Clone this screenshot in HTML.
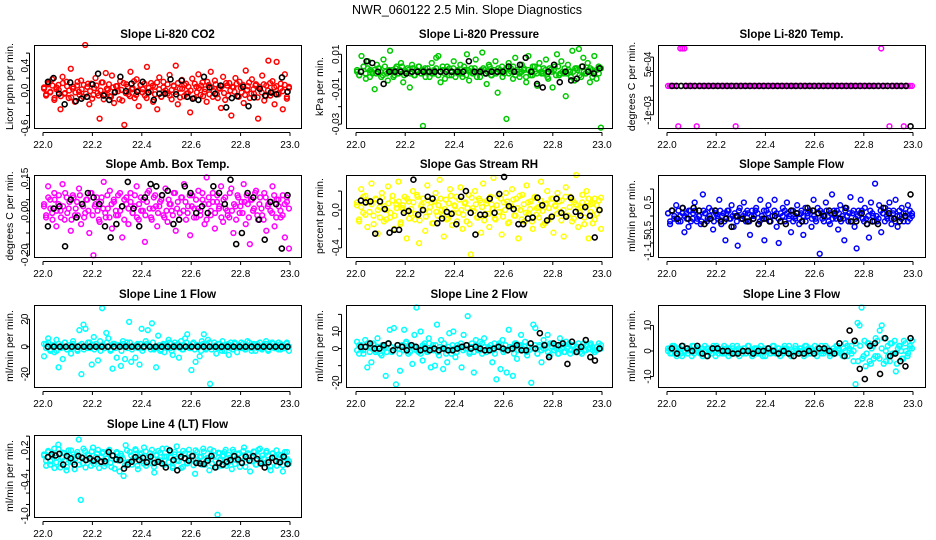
<!DOCTYPE html>
<html><head><meta charset="utf-8"><style>
html,body{margin:0;padding:0;background:#fff;}
svg{display:block;font-family:"Liberation Sans",sans-serif;}
</style></head><body>
<svg id="chart" width="936" height="540" viewBox="0 0 936 540">
<text x="467" y="14" font-size="12.5" text-anchor="middle">NWR_060122  2.5 Min. Slope Diagnostics</text>
</svg>
<script>
// ---- data (colored series, dense core-band series and black series per panel) ----
const xTickLabels = ["22.0","22.2","22.4","22.6","22.8","23.0"];
const xTickValues = [22.0,22.2,22.4,22.6,22.8,23.0];

const co2Vals = [5,-8,12,-3,18,-15,2,9,-30,22,-5,14,-12,35,3,-18,8,-2,16,-10,73,6,-22,11,-7,20,-4,-45,13,-14,28,1,-9,24,-20,7,-1,15,-16,-55,10,-6,30,4,-12,18,-25,9,2,-8,38,-3,12,-18,6,-30,21,-10,14,0,-5,25,-14,8,40,-22,3,17,-9,11,-4,-35,19,-12,6,26,-7,13,-2,-18,9,30,-10,16,-6,4,-28,22,-15,8,12,-40,5,20,-9,14,-3,-20,32,7,-12,18,-5,10,-45,2,24,-16,8,48,-8,15,-22,46,-4,11,-30,26,-10,6];
const co2Band = [3,-6,10,-2,8,-12,5,1,-9,12,-4,7,0,-11,6,-3,14,-7,2,9,-5,11,-1,-13,4,8,-8,0,13,-6,3,10,-10,5,-2,7,-14,1,12,-4,6,-9,2,15,-7,0,9,-3,11,-12,4,-1,8,-6,13,2,-10,5,-4,10,-8,1,7,-2,12,-11,3,9,-5,6,0,-13,11,-3,4,8,-9,2,14,-6,5,-1,10,-12,3,7,-4,12,-8,0,6,-2,11,-10,4,9,-7,1,13,-5,2,8,-11,6,-3,10,-9,0,12,-4,5,7,-6,3,-1,9,-13,4];
const co2Black = [14,20,-5,-22,13,-17,-13,-10,10,27,-8,-15,-3,22,-1,11,-2,14,-3,-15,-5,-5,18,-6,16,-10,-13,-15,22,5,-5,8,-27,-12,-9,6,-25,-11,3,-8,-3,-6,21,-2];
const presVals = [0,-2,9,3,-4,6,1,-1,-10,4,2,-3,7,0,-5,12,1,-2,3,-1,5,-6,0,2,-9,4,-2,1,3,-1,-31,2,0,-3,5,-1,8,9,-6,1,-4,3,2,-2,6,0,-1,4,-3,1,10,-5,2,-1,7,0,-3,11,1,-7,4,-2,0,6,-12,1,3,-1,-27,5,2,-4,8,0,-3,4,1,-6,9,-2,3,0,-8,5,-1,2,7,-4,1,-9,3,10,-2,6,-1,-14,4,0,12,-5,2,13,-3,8,-1,5,-6,1,9,-4,3,-32];
const presBand = [1,-2,0,3,-1,2,-3,0,1,-1,2,0,-2,3,-1,1,0,-3,2,-1,1,3,-2,0,1,-1,2,-2,0,3,-1,1,-3,2,0,-1,1,2,-2,0,3,-1,1,-2,0,2,-3,1,0,-1,3,-2,1,0,-1,2,-3,0,1,2,-1,0,3,-2,1,-1,2,0,-3,1,2,-1,0,3,-2,1,-1,0,2,-3,1,0,-2,3,-1,2,0,-1,1,-3,2,0,1,-2,3,-1,0,2,-1,1,-3,0,2,1,-2,3,0,-1,1,2,-3,0,1,-1,2];
const presBlack = [0,6,5,0,-7,0,0,0,-1,0,0,0,0,0,0,0,0,0,0,6,0,0,-1,0,0,0,3,0,4,8,0,-7,-9,0,4,-6,0,-5,-4,3,0,-1,2];
const tempVals = [0,0,0,0,0,-14,13,13,13,0,0,0,0,0,-14,0,0,0,0,0,0,0,0,0,0,0,0,0,0,0,0,0,0,-14,0,0,0,0,0,0,0,0,0,0,0,0,0,0,0,0,0,0,0,0,0,0,0,0,0,0,0,0,0,0,0,0,0,0,0,0,0,0,0,0,0,0,0,0,0,0,0,0,0,0,0,0,0,0,0,0,0,0,0,0,0,0,0,0,0,0,0,0,0,0,13,0,0,0,-14,0,0,0,0,0,0,-14,0,0,0,0];
const tempBand = [];
const tempBlack = [0,0,0,0,0,0,0,0,0,0,0,0,0,0,0,0,0,0,0,0,0,0,0,0,0,0,0,0,0,0,0,0,0,0,0,0,0,0,0,0,0,0,0,0,0,0,0,0,0,0,0,0,-14];
const ambVals = [2,-3,11,5,-1,8,-7,3,0,12,-4,6,1,-9,7,-2,4,10,-6,2,-1,5,-10,8,-20,3,0,-5,6,13,-3,1,9,-8,4,-2,7,0,-12,5,3,-6,8,-1,2,11,-4,6,0,-14,4,9,-3,1,7,-7,2,5,-2,10,-5,3,0,8,-9,4,-1,6,12,-4,2,-11,7,1,-3,9,0,5,-6,15,3,-2,8,-8,4,1,11,-5,6,0,-3,10,-10,2,7,-1,4,12,-6,3,-15,5,1,9,-4,6,-2,8,-9,3,0,11,-7,5,2,-3,7,-12,4,-17];
const ambBand = [3,-2,6,1,-4,5,0,7,-3,2,8,-1,4,-4,6,1,-2,7,3,-3,5,0,8,-2,2,6,-4,4,1,-1,7,-3,3,5,0,-2,8,2,-4,6,1,4,-1,7,-3,3,0,5,-2,8,1,-4,6,2,-1,4,7,-3,0,5,3,-2,8,1,-4,6,0,4,-1,7,2,-3,5,1,-2,8,3,-4,6,0,4,-1,7,2,-3,5,1,-2,8,0,3,-4,6,2,-1,4,7,-3,5,0,8,-2,3,1,-4,6,2,4,-1,7,-3,5,0,-2,3,6,1];
const ambBlack = [-7,1,2,-16,5,-3,3,8,6,3,-7,-12,-6,2,13,1,-7,6,12,11,7,9,-6,-4,11,8,-1,2,-1,11,8,3,14,-15,-10,8,6,-4,-13,4,3,-17,7];
const rhVals = [5,-10,22,-3,15,-18,8,28,-6,12,-25,3,18,-12,0,25,-8,10,-20,6,30,-15,2,14,-30,9,-4,20,-10,16,-35,4,12,-22,26,-2,8,-14,18,-6,32,0,-28,11,-9,22,-16,5,14,-3,24,-20,7,-12,16,-47,2,20,-8,12,-24,28,-4,10,-18,6,34,-10,15,-2,-26,8,18,-14,4,22,-6,12,-30,0,16,-12,26,-4,9,-20,14,2,-8,30,-16,6,20,-10,12,-24,4,18,-2,10,-28,24,-6,14,-12,8,37,-18,2,16,-8,20,-30,6,-14,12,-4,10,-20];
const rhBand = [8,-12,3,14,-5,10,-2,6,-15,11,0,-8,13,4,-10,7,-3,15,-6,2,9,-13,5,-1,12,-9,1,8,-4,14,-11,6,0,-7,10,3,-14,9,-2,5,12,-6,1,-10,7,15,-3,4,-12,11,0,-5,8,2,-15,13,-1,6,-8,10,3,-11,7,-4,14,1,-9,5,-2,12,-7,0,9,-13,4,11,-6,2,15,-10,6,-3,8,1,-12,13,-5,3,10,-1,-14,7,2,-8,12,5,-4,9,-11,0,14,-6,3,11,-9,6,1,-3,8,-15,4,12,-2,7,-10,5,0,13];
const rhBlack = [10,8,9,-25,9,1,-24,-21,-21,-3,-1,32,-5,0,14,12,-14,-9,-2,-4,-15,14,20,-3,-26,-5,-5,12,-3,17,35,4,1,-15,-15,-9,-8,13,5,-11,-7,12,-3,-7,13,-2,-6,3,-6,-29,0];
const flowVals = [1,-3,2,-1,4,-2,0,3,-6,1,-4,2,-1,5,-2,0,-3,8,1,-2,3,-1,-5,2,0,6,-3,1,-9,2,-1,4,-4,0,-11,3,-1,5,-2,1,-7,2,0,3,-3,6,-1,-9,2,4,-2,0,6,-4,-10,1,3,-2,5,0,-6,2,-1,4,-3,1,-7,3,0,2,-4,6,-1,3,-14,1,-2,5,0,-3,8,2,-1,-5,4,0,-9,3,-2,7,1,-4,-12,2,6,-1,3,-3,-8,5,0,12,-2,4,-6,1,3,-1,5,-3,2,6,-4,0,3,-2,1,4,-1,0];
const flowBand = [1,-2,2,0,-1,2,-2,1,0,-1,2,-2,1,2,-1,0,-2,2,1,-1,0,2,-2,1,-1,2,0,-2,1,2,-1,0,1,-2,2,-1,0,1,2,-2,0,-1,2,1,-2,0,2,-1,1,-2,0,2,1,-1,-2,0,2,1,-1,2,-2,0,1,-1,2,0,-2,1,2,-1,0,-2,1,2,-1,0,2,-2,1,-1,0,2,1,-2,-1,2,0,1,-2,2,-1,0,1,2,-2,-1,0,2,1,-2,0,-1,2,1,-2,0,2,-1,1,-2,0,2,-1,1,0,-2,2,1];
const flowBlack = [2,-1,3,-1,3,2,-3,-1,2,-2,-1,-4,0,-1,-2,-1,-3,-1,-2,0,-2,-3,2,1,-2,3,2,1,0,2,1,-1,3,-2,-2,1,-3,-2,-3,3,1,-1,-2,0,8];
const line1Vals = [-7,2,6,-3,1,-4,5,-15,0,-9,3,-2,1,-5,4,0,-2,12,-20,16,13,-1,3,-13,7,2,-10,4,28,-1,10,6,-3,-16,2,-8,1,-14,4,-9,3,18,-11,0,-8,2,-13,13,-1,4,12,0,17,-2,-15,8,-3,1,-4,2,5,-1,-6,3,0,-8,4,-2,6,9,-1,-17,3,-11,1,-7,4,9,-2,5,-27,0,3,-5,2,-1,4,-3,1,-6,3,0,2,-4,1,3,-1,-2,4,0,-3,2,1,-1,3,-2,0,4,-3,1,2,-1,0,3,-2,1,-1,2,0];
const line1Band = [2,-1,3,-2,0,1,-3,2,-1,0,3,-2,1,-1,2,0,-3,1,2,-2,0,3,-1,1,-2,2,0,-3,1,-1,3,0,-2,2,-1,1,0,-3,2,1,-1,3,-2,0,1,-1,2,-3,0,2,1,-2,3,-1,0,1,-2,2,0,-1,3,-3,1,0,2,-1,-2,1,3,0,-1,2,-2,1,0,-3,2,-1,1,3,-2,0,1,-1,2,-3,0,1,2,-1,-2,3,0,1,-1,2,-2,0,3,-1,1,-3,2,0,-1,1,2,-2,0,3,-1,1,-2,2,0,-1,3,-3];
const line1Black = [0,0,0,0,0,0,0,0,0,0,0,0,0,0,0,0,0,0,0,0,0,0,0,0,0,0,0,0,0,0,0,0,0,0,0,0,0,0,0,0,0];
const line2Vals = [4,-3,2,-1,5,-11,1,-8,3,-2,6,0,-4,1,-16,3,11,-2,12,-21,0,-13,2,11,4,-3,1,-9,8,24,-2,10,-7,3,-1,6,-11,2,-10,14,-4,5,-12,0,-8,9,-3,10,-5,2,1,-11,8,0,19,-2,3,-14,5,-1,4,-3,6,-2,1,0,-8,3,-18,2,-12,5,-1,-14,11,0,-16,3,-6,2,8,-1,4,-4,1,-20,14,12,-3,2,-8,5,0,8,-4,3,-1,2,-3,6,0,-2,4,1,-3,2,-1,0,3,-2,1,-1,2,0,3,-1,-2,1,0,2];
const line2Band = [-1,2,0,-3,1,3,-2,0,2,-1,1,-3,2,0,-2,3,1,-1,0,2,-3,1,-1,3,0,-2,2,1,-1,0,-3,2,1,-2,3,0,-1,2,-2,1,0,3,-3,1,-1,2,0,-2,1,3,-1,0,2,-3,1,-2,2,0,-1,3,1,-2,0,2,-1,-3,1,3,0,-2,2,-1,1,0,-3,3,-1,2,0,1,-2,-1,3,0,2,-3,1,-1,0,2,-2,3,1,-1,0,-3,2,1,-2,0,3,-1,2,-2,1,0,-3,3,-1,0,2,1,-2,-1,3,0];
const line2Black = [1,1,3,0,0,2,3,-1,2,1,-1,2,1,-1,0,-1,0,-1,0,-1,-1,0,1,2,0,1,0,-1,-1,0,1,0,-1,0,2,-1,-1,3,0,9,2,-5,3,2,3,-9,4,-2,1,5,-5,-7,0];
const line3Vals = [0,1,-1,2,-1,0,1,-2,0,1,-1,0,2,-1,1,0,-1,1,0,-2,1,0,-1,1,2,-1,0,1,-1,0,1,-1,2,0,-1,1,0,-1,1,0,2,-1,0,1,-1,1,0,-2,1,0,1,-1,2,0,-1,1,0,-1,1,0,2,-1,0,1,-1,0,1,-1,2,0,-1,1,0,-1,1,0,2,-1,0,1,-1,0,1,-1,2,0,-1,1,3,-2,0,2,-4,-13,11,10,17,-2,-6,3,-4,1,-3,5,-2,8,10,-5,0,2,-4,3,-1,-8,1,2,-3,4,0,-1,2,1];
const line3Band = [1,-1,2,0,-2,1,-1,2,0,-1,1,-2,2,0,1,-1,-2,2,1,0,-1,2,-2,1,0,-1,2,1,-2,0,1,-1,2,-2,0,1,-1,2,0,-2,1,1,-1,2,0,-2,1,-1,0,2,-1,1,-2,0,2,1,-1,-2,0,2,-1,1,0,-2,2,1,-1,0,2,-2,1,-1,0,2,1,-2,-1,0,2,1,-1,-2,0,2,1,-1,0,3,-4,2,-3,4,-1,3,-5,2,-2,4,-3,1,5,-4,-2,3,-1,4,-5,2,0,-3,3,-2,1,4];
const line3Black = [1,-1,2,1,0,2,-1,-2,1,1,0,0,-1,-1,0,0,-1,0,0,1,0,-1,0,-1,-2,-1,-1,0,-1,1,1,0,-1,3,-2,8,4,-7,-11,2,3,-9,5,-2,-1,-4,-6,5];
const line4Vals = [8,-3,12,-10,5,18,-6,25,-15,2,10,-20,15,-5,3,-18,8,34,-72,-8,14,-2,6,-12,20,-4,9,-16,4,12,-8,1,16,-14,6,-2,10,-22,5,-30,24,-6,12,-10,2,15,-18,8,-4,20,-12,3,10,-8,-24,6,14,-3,18,-10,4,-6,12,-16,8,22,-4,2,-14,10,-8,16,-2,6,-26,12,-6,4,18,-10,2,-20,8,14,-4,-98,10,-12,6,16,-8,2,-18,12,-2,8,-14,4,20,-6,10,-22,2,12,-10,16,-4,6,-8,14,-2,-20,10,4,-12,8,-6,-22,2,12,-4];
const line4Band = [6,-12,14,-4,9,-16,2,17,-8,11,-2,-14,7,15,-6,0,12,-10,4,18,-15,8,-1,13,-9,3,16,-5,10,-13,1,14,-7,5,-17,12,-3,9,0,-11,15,-6,6,-2,17,-12,3,10,-8,13,-4,0,16,-14,7,-1,11,-9,4,18,-6,2,-13,12,-3,8,-16,14,0,-7,9,5,-11,15,-2,3,-10,13,-5,1,17,-8,6,-15,11,-1,4,12,-12,7,-3,16,-9,2,10,-6,14,-14,0,8,-4,13,-10,5,18,-7,1,11,-2,-13,9,3,15,-5,6,-11,12,0,-8];
const line4Black = [3,8,6,9,-10,5,1,-10,5,2,-2,1,-3,0,-5,-4,12,6,-1,-2,-17,-10,-5,3,-2,2,-6,4,-7,-5,-8,-15,15,-2,-20,4,1,-3,5,-7,-8,-9,-3,5,-15,-7,-10,-5,-2,5,-1,-7,4,-3,5,0,-8,-15,-6,2,-4,-6,4,-9];

// ---- layout ----
const cols=[{x0:34,x1:301,t0:43,t1:290,tl:24,yl:9},{x0:346,x1:612,t0:356,t1:602,tl:335,yl:319},{x0:658,x1:925,t0:667,t1:913,tl:647,yl:631}];
const rows=[{y0:45,y1:128},{y0:175,y1:257},{y0:305,y1:387},{y0:435,y1:517}];
const panels=[
 {name:"co2",title:"Slope Li-820 CO2",ylab:"Licor ppm per min.",c:0,r:0,col:"#ff0000",scale:0.01,v:co2Vals,band:co2Band,b:co2Black,ylim:[-0.6,0.73],ticks:[-0.6,-0.4,-0.2,0,0.2,0.4,0.6],labs:[[-0.6,"-0.6"],[0,"0.0"],[0.4,"0.4"]]},
 {name:"pressure",title:"Slope Li-820 Pressure",ylab:"kPa per min.",c:1,r:0,col:"#00c800",scale:0.001,v:presVals,band:presBand,b:presBlack,ylim:[-0.0322,0.0153],ticks:[-0.03,-0.02,-0.01,0,0.01],labs:[[-0.03,"-0.03"],[-0.01,"-0.01"],[0.01,"0.01"]]},
 {name:"temp",title:"Slope Li-820 Temp.",ylab:"degrees C per min.",c:2,r:0,col:"#ff00ff",scale:0.0001,v:tempVals,band:tempBand,b:tempBlack,ylim:[-0.00146,0.00142],ticks:[-0.001,-0.0005,0,0.0005,0.001],labs:[[-0.00085,"-1e-03"],[0.00075,"5e-04"]]},
 {name:"amb-temp",title:"Slope Amb. Box Temp.",ylab:"degrees C per min.",c:0,r:1,col:"#ff00ff",scale:0.01,v:ambVals,band:ambBand,b:ambBlack,ylim:[-0.208,0.161],ticks:[-0.2,-0.15,-0.1,-0.05,0,0.05,0.1,0.15],labs:[[-0.2,"-0.20"],[0,"0.00"],[0.15,"0.15"]]},
 {name:"rh",title:"Slope Gas Stream RH",ylab:"percent per min.",c:1,r:1,col:"#ffff00",scale:0.01,v:rhVals,band:rhBand,b:rhBlack,ylim:[-0.497,0.37],ticks:[-0.4,-0.2,0,0.2],labs:[[-0.4,"-0.4"],[0,"0.0"]]},
 {name:"sample-flow",title:"Slope Sample Flow",ylab:"ml/min per min.",c:2,r:1,col:"#0000ff",scale:0.1,v:flowVals,band:flowBand,b:flowBlack,ylim:[-1.52,1.52],ticks:[-1.5,-1,-0.5,0,0.5,1],labs:[[-1.5,"-1"],[-1,"-1.5"],[-0.5,"-0.5"],[0.5,"0.5"]]},
 {name:"line1",title:"Slope Line 1 Flow",ylab:"ml/min per min.",c:0,r:2,col:"#00ffff",scale:1,v:line1Vals,band:line1Band,b:line1Black,ylim:[-29.3,30.3],ticks:[-20,0,20],labs:[[-20,"-20"],[0,"0"],[20,"20"]]},
 {name:"line2",title:"Slope Line 2 Flow",ylab:"ml/min per min.",c:1,r:2,col:"#00ffff",scale:1,v:line2Vals,band:line2Band,b:line2Black,ylim:[-22.5,25.5],ticks:[-20,-10,0,10,20],labs:[[-20,"-20"],[0,"0"],[10,"10"]]},
 {name:"line3",title:"Slope Line 3 Flow",ylab:"ml/min per min.",c:2,r:2,col:"#00ffff",scale:1,v:line3Vals,band:line3Band,b:line3Black,ylim:[-14.1,18],ticks:[-10,0,10],labs:[[-10,"-10"],[0,"0"],[10,"10"]]},
 {name:"line4",title:"Slope Line 4 (LT) Flow",ylab:"ml/min per min.",c:0,r:3,col:"#00ffff",scale:0.01,v:line4Vals,band:line4Band,b:line4Black,ylim:[-1.02,0.42],ticks:[-1,-0.8,-0.6,-0.4,-0.2,0,0.2,0.4],labs:[[-1,"-1.0"],[-0.4,"-0.4"],[0.2,"0.2"]]}
];
const svg=document.getElementById('chart');
const NS="http://www.w3.org/2000/svg";
function mk(tag,attrs,parent){const e=document.createElementNS(NS,tag);for(const k in attrs)e.setAttribute(k,attrs[k]);parent.appendChild(e);return e;}

panels.forEach(p=>{
  const C=cols[p.c],R=rows[p.r];
  const xs=t=>C.t0+(t-22)*(C.t1-C.t0);
  const ys=v=>R.y1-(v-p.ylim[0])/(p.ylim[1]-p.ylim[0])*(R.y1-R.y0);
  const g=mk('g',{},svg);
  
  
  const tt=mk('text',{x:(C.x0+C.x1)/2,y:R.y0-7,'font-size':'11.5','font-weight':'bold','text-anchor':'middle'},g);
  tt.textContent=p.title;
  
  
  const yl=mk('text',{x:0,y:0,'font-size':'10.5','text-anchor':'middle',transform:`translate(${C.yl+4},${(R.y0+R.y1)/2}) rotate(-90)`},g);
  yl.textContent=p.ylab;
  
  
  const pts=mk('g',{fill:'none'},g);
  
  
  [p.band,p.v].forEach(arr=>{
    const n=arr.length;
    arr.forEach((v,i)=>{
      const t=22+(i+0.5)/n;
      const c=mk('circle',{cx:xs(t),cy:ys(v*p.scale),r:2.4,stroke:p.col,'stroke-width':1.5},pts);
      
      
    });
  });
  const m=p.b.length;
  p.b.forEach((v,i)=>{
    const t=22.02+0.97*i/(m-1);
    const c=mk('circle',{cx:xs(t),cy:ys(v*p.scale),r:2.5,stroke:'#000','stroke-width':1.6},pts);
    
    
  });
  const bx=mk('rect',{x:C.x0+0.5,y:R.y0+0.5,width:C.x1-C.x0,height:R.y1-R.y0,fill:'none',stroke:'#000','stroke-width':1},g);
  
  
  const ya=mk('g',{stroke:'#000','stroke-width':1},g);
  
  
  mk('line',{x1:C.x0-4.5,x2:C.x0-4.5,y1:ys(p.ticks[0]),y2:ys(p.ticks[p.ticks.length-1])},ya);
  p.ticks.forEach(tv=>{mk('line',{x1:C.x0-8,x2:C.x0-4.5,y1:ys(tv),y2:ys(tv)},ya);});
  p.labs.forEach(([tv,l])=>{
    const e=mk('text',{x:0,y:0,'font-size':'10','text-anchor':'middle',stroke:'none',transform:`translate(${C.tl+4},${ys(tv)}) rotate(-90)`},g);
    e.textContent=l;
    
    
  });
  const xa=mk('g',{stroke:'#000','stroke-width':1},g);
  
  
  mk('line',{x1:xs(22),x2:xs(23),y1:R.y1+4.5,y2:R.y1+4.5},xa);
  xTickValues.forEach((tv,i)=>{
    mk('line',{x1:xs(tv),x2:xs(tv),y1:R.y1+4.5,y2:R.y1+8},xa);
    const e=mk('text',{x:xs(tv),y:R.y1+20,'font-size':'10','text-anchor':'middle',stroke:'none'},g);
    e.textContent=xTickLabels[i];
    
    
  });
});
</script>
</body></html>
